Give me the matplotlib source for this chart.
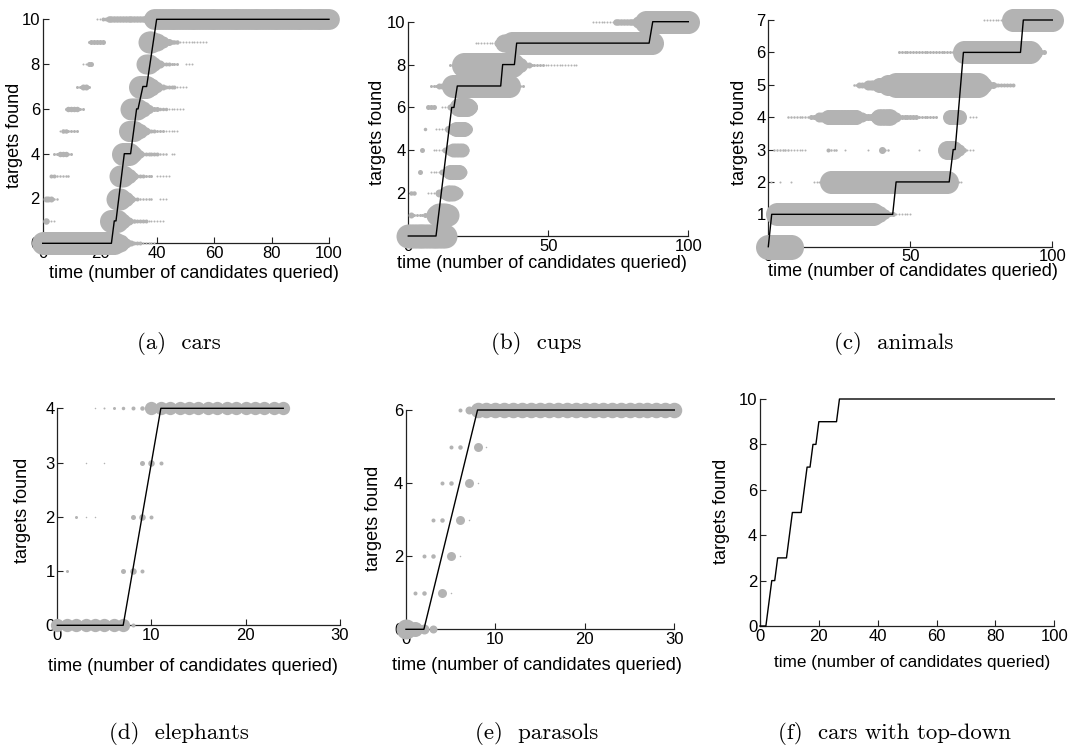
import matplotlib

matplotlib.use("Agg")
import matplotlib.pyplot as plt
import numpy as np

plt.rcParams["font.family"] = ["Liberation Sans", "DejaVu Sans"]

GREY = "#b3b3b3"
DPI = 100

# black path through the targets-found histogram: (time, targets)
CARS_T = [0, 24, 25, 25.6, 28.5, 30.7, 32.8, 33.3, 35, 36.3, 39.8, 100]
CARS_K = [0, 0, 1, 1, 4, 4, 6, 6, 7, 7, 10, 10]
CUPS_T = [0, 9.9, 15.5, 16.3, 17.5, 33, 33.7, 37.9, 38.7, 86, 87.3, 100]
CUPS_K = [0, 0, 6, 6, 7, 7, 8, 8, 9, 9, 10, 10]
ANIMALS_T = [0, 1.2, 43.8, 45, 63.7, 65.1, 65.8, 68.7, 88.8, 89.8, 100]
ANIMALS_K = [0, 1, 1, 2, 2, 3, 3, 6, 6, 7, 7]
ELEPH_T = [0, 7, 11, 24]
ELEPH_K = [0, 0, 4, 4]
PARASOL_T = [0, 2, 8, 30]
PARASOL_K = [0, 0, 6, 6]
TOPDOWN_T = [0, 2, 4, 5, 6, 9, 11, 14, 16, 17, 18, 19, 20, 26, 27, 100]
TOPDOWN_K = [0, 0, 2, 2, 3, 3, 5, 5, 7, 7, 8, 8, 9, 9, 10, 10]

# grey histogram runs: (targets, first time, last time, dot diameter in px)
CARS_BLOBS = [
    (0, 0, 25, 23), (0, 26, 27, 18), (0, 28, 29, 10), (0, 30, 31, 6), (0, 32, 34, 4), (0, 35, 39, 2),
    (1, 1, 1, 6.5), (1, 2, 4, 2), (1, 24, 26, 23), (1, 27, 28, 15), (1, 29, 30, 8), (1, 31, 32, 4.5),
    (1, 33, 36, 4), (1, 37, 42, 2),
    (2, 1, 3, 6), (2, 4, 5, 2.5), (2, 26, 27, 22), (2, 28, 29, 15), (2, 30, 31, 8), (2, 32, 33, 4),
    (2, 34, 38, 2.5), (2, 41, 43, 2),
    (3, 3, 4, 4), (3, 5, 9, 2.5), (3, 27, 28, 22), (3, 29, 30, 15), (3, 31, 32, 8), (3, 33, 35, 4),
    (3, 36, 38, 3), (3, 40, 44, 2),
    (4, 4, 5, 3), (4, 6, 8, 5.5), (4, 9, 10, 3), (4, 28, 30, 23), (4, 31, 32, 16), (4, 33, 34, 8),
    (4, 35, 40, 4), (4, 41, 43, 2.5), (4, 45, 46, 2),
    (5, 6, 6, 2), (5, 7, 8, 4.5), (5, 9, 12, 3), (5, 30, 32, 21), (5, 33, 34, 15), (5, 35, 36, 8),
    (5, 37, 39, 4), (5, 40, 42, 3), (5, 43, 47, 2),
    (6, 8, 8, 3), (6, 9, 12, 5.5), (6, 13, 14, 3), (6, 31, 33, 22), (6, 34, 35, 16), (6, 36, 37, 9),
    (6, 38, 40, 5), (6, 41, 43, 3.5), (6, 44, 49, 2),
    (7, 12, 13, 3), (7, 14, 15, 6), (7, 16, 16, 3), (7, 34, 36, 23), (7, 37, 38, 18), (7, 39, 40, 11),
    (7, 41, 42, 6), (7, 43, 46, 4), (7, 47, 50, 2),
    (8, 14, 15, 2), (8, 16, 17, 5), (8, 36, 37, 20), (8, 38, 39, 14), (8, 40, 41, 8), (8, 42, 44, 4),
    (8, 45, 47, 3), (8, 50, 52, 2),
    (9, 16, 16, 3), (9, 17, 21, 5), (9, 37, 38, 22), (9, 39, 40, 18), (9, 41, 42, 12), (9, 43, 44, 7),
    (9, 45, 47, 4.5), (9, 48, 57, 2),
    (10, 19, 20, 2), (10, 21, 22, 4), (10, 23, 36, 6.5), (10, 37, 38, 12), (10, 39, 100, 20.7),
]
CUPS_BLOBS = [
    (0, 0, 13, 24),
    (1, 1, 1, 6), (1, 2, 5, 3), (1, 6, 8, 5), (1, 9, 9, 14), (1, 10, 10, 20), (1, 11, 13, 24),
    (1, 14, 14, 22), (1, 15, 15, 16),
    (2, 1, 2, 4.5), (2, 7, 10, 2), (2, 11, 12, 8), (2, 13, 13, 13), (2, 14, 16, 16), (2, 17, 17, 13),
    (2, 18, 18, 8),
    (3, 4, 4, 5), (3, 8, 11, 2), (3, 12, 13, 6), (3, 14, 14, 12), (3, 15, 18, 15), (3, 19, 19, 10),
    (4, 5, 5, 5), (4, 9, 12, 2), (4, 13, 14, 6), (4, 15, 15, 11), (4, 16, 19, 14), (4, 20, 20, 10),
    (5, 6, 6, 3.5), (5, 10, 13, 2), (5, 14, 15, 7), (5, 16, 16, 12), (5, 17, 20, 15), (5, 21, 21, 11),
    (6, 7, 9, 5), (6, 12, 14, 2), (6, 15, 16, 6), (6, 17, 17, 14), (6, 18, 21, 19), (6, 22, 22, 15),
    (6, 23, 23, 9),
    (7, 8, 10, 3), (7, 11, 13, 6), (7, 14, 15, 12), (7, 16, 36, 23), (7, 37, 38, 8), (7, 39, 41, 3),
    (8, 15, 17, 3), (8, 18, 19, 12), (8, 20, 37, 25), (8, 38, 40, 15), (8, 41, 43, 6), (8, 44, 48, 3),
    (8, 49, 60, 2),
    (9, 24, 31, 2), (9, 32, 33, 8), (9, 34, 36, 18), (9, 37, 87, 23), (9, 88, 89, 10),
    (10, 66, 73, 2), (10, 74, 81, 6.5), (10, 82, 84, 12), (10, 85, 100, 23),
]
ANIMALS_BLOBS = [
    (0, 0, 8, 25), (0, 9, 9, 6), (0, 10, 11, 2),
    (1, 3, 37, 23), (1, 38, 39, 17), (1, 40, 41, 10), (1, 42, 44, 5), (1, 45, 50, 2),
    (2, 1, 1, 2), (2, 4, 4, 2), (2, 8, 8, 2), (2, 16, 19, 2), (2, 22, 63, 23), (2, 64, 65, 8),
    (2, 66, 68, 2),
    (3, 2, 7, 2.5), (3, 8, 13, 2), (3, 21, 21, 4), (3, 22, 24, 2.5), (3, 27, 27, 2), (3, 35, 35, 2),
    (3, 40, 40, 7), (3, 41, 42, 2.5), (3, 53, 53, 2), (3, 63, 65, 19), (3, 66, 67, 12), (3, 68, 69, 5),
    (3, 70, 72, 2),
    (4, 7, 14, 2.5), (4, 15, 17, 5), (4, 18, 20, 10), (4, 21, 31, 15), (4, 32, 33, 10), (4, 34, 37, 7),
    (4, 38, 38, 12), (4, 39, 43, 16.5), (4, 44, 45, 10), (4, 46, 52, 5), (4, 53, 59, 3),
    (4, 64, 67, 15), (4, 68, 68, 8), (4, 71, 73, 2),
    (5, 30, 31, 2.5), (5, 32, 34, 6), (5, 35, 38, 10), (5, 39, 41, 15), (5, 42, 44, 21),
    (5, 45, 74, 25), (5, 75, 76, 16), (5, 77, 79, 7), (5, 80, 86, 4),
    (6, 46, 66, 3), (6, 67, 68, 12), (6, 69, 92, 23), (6, 93, 94, 15), (6, 95, 97, 5),
    (7, 76, 83, 2), (7, 84, 85, 10), (7, 86, 100, 23),
]
ELEPH_BLOBS = [
    (0, 0, 7, 13.3), (0, 8, 8, 4),
    (1, 1, 1, 3), (1, 7, 7, 5), (1, 8, 8, 6.5), (1, 9, 9, 4),
    (2, 2, 2, 3), (2, 3, 3, 1.5), (2, 4, 4, 1.5), (2, 8, 8, 5), (2, 9, 9, 6.5), (2, 10, 10, 4),
    (3, 3, 3, 1.5), (3, 5, 5, 1.5), (3, 9, 9, 5), (3, 10, 10, 6.5), (3, 11, 11, 4),
    (4, 4, 4, 1.5), (4, 5, 5, 2), (4, 6, 6, 3), (4, 7, 7, 3.5), (4, 8, 8, 4), (4, 9, 9, 4.5),
    (4, 10, 24, 13.3),
]
PARASOL_BLOBS = [
    (0, 0, 0, 20), (0, 1, 1, 15), (0, 2, 2, 10), (0, 3, 3, 8),
    (1, 1, 1, 4), (1, 2, 2, 4.5), (1, 4, 4, 9), (1, 5, 5, 1.5),
    (2, 2, 2, 4), (2, 3, 3, 4.5), (2, 5, 5, 9), (2, 6, 6, 1.5),
    (3, 3, 3, 4), (3, 4, 4, 4.5), (3, 6, 6, 9), (3, 7, 7, 1.5),
    (4, 4, 4, 4), (4, 5, 5, 4.5), (4, 7, 7, 9), (4, 8, 8, 1.5),
    (5, 5, 5, 4), (5, 6, 6, 4.5), (5, 8, 8, 9), (5, 9, 9, 1.5),
    (6, 6, 6, 4), (6, 7, 7, 8), (6, 8, 30, 15.5),
]

# (caption, axes box in px [left, top, right, bottom], xmax, ymax, xticks, yticks, path, blobs)
PANELS = [
    ("(a)  cars", (42.7, 19.3, 329, 243.3), 100, 10, [0, 20, 40, 60, 80, 100], [0, 2, 4, 6, 8, 10],
     (CARS_T, CARS_K), CARS_BLOBS),
    ("(b)  cups", (408.3, 21.7, 688.3, 236), 100, 10, [0, 50, 100], [0, 2, 4, 6, 8, 10],
     (CUPS_T, CUPS_K), CUPS_BLOBS),
    ("(c)  animals", (768.3, 20, 1052.3, 246.7), 100, 7, [0, 50, 100], list(range(8)),
     (ANIMALS_T, ANIMALS_K), ANIMALS_BLOBS),
    ("(d)  elephants", (57.3, 408.3, 339.7, 625.3), 30, 4, [0, 10, 20, 30], [0, 1, 2, 3, 4],
     (ELEPH_T, ELEPH_K), ELEPH_BLOBS),
    ("(e)  parasols", (406, 410, 674.3, 629.3), 30, 6, [0, 10, 20, 30], [0, 2, 4, 6],
     (PARASOL_T, PARASOL_K), PARASOL_BLOBS),
    ("(f)  cars with top-down", (760, 399, 1054.3, 626), 100, 10, [0, 20, 40, 60, 80, 100],
     [0, 2, 4, 6, 8, 10], (TOPDOWN_T, TOPDOWN_K), None),
]
# label centres in px: (xlabel x, xlabel y, ylabel x, ylabel y, xlabel size)
LABEL_POS = [
    (193.5, 273, 14.5, 135, 13),
    (542, 263, 377.5, 132, 13),
    (913, 272, 739, 132, 13),
    (192.5, 666.7, 22.6, 510.5, 13),
    (537, 665, 374, 518, 13),
    (912.5, 663, 721.5, 511.7, 12.3),
]
CAPTION_Y = [343.5, 733.5]

W, H = 1073, 750
fig = plt.figure(figsize=(W / DPI, H / DPI), dpi=DPI)

for i, (cap, (x0, y0, x1, y1), xmax, ymax, xt, yt, path, blobs) in enumerate(PANELS):
    ax = fig.add_axes([x0 / W, 1 - y1 / H, (x1 - x0) / W, (y1 - y0) / H])
    ax.set_xlim(0, xmax)
    ax.set_ylim(0, ymax)
    for side in ("top", "right"):
        ax.spines[side].set_visible(False)
    for side in ("left", "bottom"):
        ax.spines[side].set_color("#222222")
        ax.spines[side].set_linewidth(0.9)
    ax.set_xticks(xt)
    ax.set_yticks(yt)
    ax.tick_params(direction="in", length=4, width=0.8, labelsize=12, pad=2, colors="#222222",
                   labelcolor="black")

    lx, ly, yx, yy, lsize = LABEL_POS[i]
    ax.set_xlabel("time (number of candidates queried)", fontsize=lsize, va="center", ha="center")
    ax.xaxis.set_label_coords((lx - x0) / (x1 - x0), (y1 - ly) / (y1 - y0))
    ax.set_ylabel("targets found", fontsize=13, va="center", ha="center")
    ax.yaxis.set_label_coords((yx - x0) / (x1 - x0), (y1 - yy) / (y1 - y0))

    if blobs:
        for lev, t0, t1, d in blobs:
            t = np.arange(t0, t1 + 1)
            ax.scatter(t, np.full(len(t), lev), s=(d * 72 / DPI) ** 2, color=GREY,
                       linewidths=0, clip_on=False, zorder=3)
    ax.plot(path[0], path[1], color="black", lw=1.0, zorder=4, clip_on=False)

    cx = (2 * (i % 3) + 1) / 6
    fig.text(cx, 1 - CAPTION_Y[i // 3] / H, cap, family="cmr10", fontsize=16.5,
             ha="center", va="center")

fig.savefig("out.png", dpi=DPI)
